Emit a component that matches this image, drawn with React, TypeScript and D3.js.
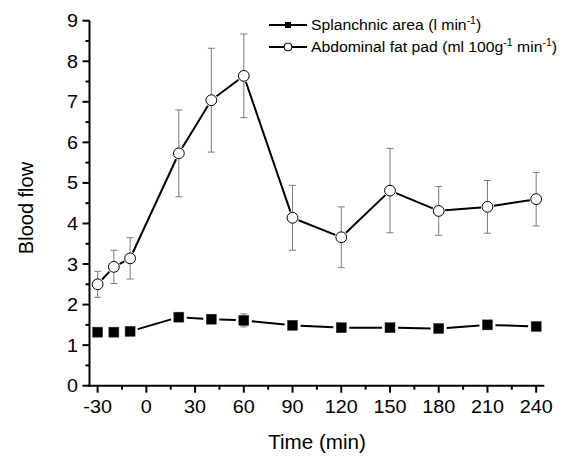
import React from 'react';
import * as d3 from 'd3';

const times = [-30, -20, -10, 20, 40, 60, 90, 120, 150, 180, 210, 240];
const splanchnic = [1.32, 1.32, 1.34, 1.69, 1.64, 1.61, 1.49, 1.43, 1.43, 1.41, 1.5, 1.46];
const splanchnicErr = [0.04, 0.04, 0.04, 0.1, 0.1, 0.16, 0.05, 0.04, 0.04, 0.04, 0.05, 0.05];
const fatPad = [2.5, 2.93, 3.14, 5.73, 7.04, 7.64, 4.14, 3.66, 4.81, 4.31, 4.41, 4.6];
const fatPadErr = [0.32, 0.41, 0.51, 1.07, 1.28, 1.03, 0.8, 0.75, 1.04, 0.6, 0.65, 0.66];
const xTicks = [-30, 0, 30, 60, 90, 120, 150, 180, 210, 240];
const xMinorTicks = [-15, 15, 45, 75, 105, 135, 165, 195, 225];
const yTicks = [0, 1, 2, 3, 4, 5, 6, 7, 8, 9];
const yMinorTicks = [0.5, 1.5, 2.5, 3.5, 4.5, 5.5, 6.5, 7.5, 8.5];

const FONT = 'Liberation Sans, Arial, Helvetica, sans-serif';

const x = d3.scaleLinear().domain([-35, 245]).range([89.5, 544.3]);
const y = d3.scaleLinear().domain([0, 9]).range([385.7, 20.7]);

type Pt = [number, number];

function segments(pts: Pt[], shrink: number): string {
  let d = '';
  for (let i = 0; i < pts.length - 1; i++) {
    const [x1, y1] = pts[i];
    const [x2, y2] = pts[i + 1];
    const dx = x2 - x1;
    const dy = y2 - y1;
    const len = Math.sqrt(dx * dx + dy * dy);
    if (len <= 2 * shrink + 0.5) continue;
    const ux = dx / len;
    const uy = dy / len;
    d += `M${x1 + ux * shrink},${y1 + uy * shrink}L${x2 - ux * shrink},${y2 - uy * shrink}`;
  }
  return d;
}

function ErrorBars({ vals, errs }: { vals: number[]; errs: number[] }) {
  return (
    <g stroke="#7a7a7a" strokeWidth={1} fill="none">
      {times.map((t, i) => {
        const cx = x(t);
        const top = y(vals[i] + errs[i]);
        const bot = y(vals[i] - errs[i]);
        return (
          <g key={i}>
            <line x1={cx} x2={cx} y1={top} y2={bot} />
            <line x1={cx - 3.5} x2={cx + 3.5} y1={top} y2={top} />
            <line x1={cx - 3.5} x2={cx + 3.5} y1={bot} y2={bot} />
          </g>
        );
      })}
    </g>
  );
}

export default function App() {
  const sqPts: Pt[] = times.map((t, i) => [x(t), y(splanchnic[i])]);
  const cPts: Pt[] = times.map((t, i) => [x(t), y(fatPad[i])]);
  const x0 = x.range()[0];
  const y0 = y.range()[0];
  const SX = 1.1;

  return (
    <svg
      width={565}
      height={456}
      style={{ position: 'absolute', left: 0, top: 0, background: '#fff' }}
      fontFamily={FONT}
    >
      <rect x={0} y={0} width={565} height={456} fill="#fff" />

      {/* error bars */}
      <ErrorBars vals={splanchnic} errs={splanchnicErr} />
      <ErrorBars vals={fatPad} errs={fatPadErr} />

      {/* lines */}
      <path d={segments(sqPts, 8)} stroke="#000" strokeWidth={2} fill="none" />
      <path d={segments(cPts, 6.5)} stroke="#000" strokeWidth={2} fill="none" />

      {/* markers */}
      {sqPts.map(([px, py], i) => (
        <rect key={'s' + i} x={px - 5} y={py - 5} width={10} height={10} fill="#000" stroke="#333" strokeWidth={0.5} />
      ))}
      {cPts.map(([px, py], i) => (
        <circle key={'c' + i} cx={px} cy={py} r={5.4} fill="#fff" stroke="#000" strokeWidth={1} />
      ))}

      {/* axes */}
      <g stroke="#000" strokeWidth={2} fill="none">
        <line x1={x0} x2={x0} y1={y(9)} y2={y0 + 1} />
        <line x1={x0 - 1} x2={x.range()[1]} y1={y0} y2={y0} />
        {yTicks.map((v) => (
          <line key={'yt' + v} x1={x0 - 7} x2={x0} y1={y(v)} y2={y(v)} />
        ))}
        {yMinorTicks.map((v) => (
          <line key={'ym' + v} x1={x0 - 4} x2={x0} y1={y(v)} y2={y(v)} />
        ))}
        {xTicks.map((v) => (
          <line key={'xt' + v} x1={x(v)} x2={x(v)} y1={y0} y2={y0 + 7} />
        ))}
        {xMinorTicks.map((v) => (
          <line key={'xm' + v} x1={x(v)} x2={x(v)} y1={y0} y2={y0 + 4} />
        ))}
      </g>

      {/* tick labels */}
      <g fontSize={18} fill="#000">
        {yTicks.map((v) => (
          <text
            key={'yl' + v}
            transform={`translate(78,${y(v)}) scale(${SX},1)`}
            dy="0.36em"
            textAnchor="end"
          >
            {v}
          </text>
        ))}
        {xTicks.map((v) => (
          <text key={'xl' + v} transform={`translate(${x(v)},413) scale(${SX},1)`} textAnchor="middle">
            {v}
          </text>
        ))}
      </g>

      {/* axis titles */}
      <text transform="translate(317,449) scale(1.03,1)" fontSize={20} textAnchor="middle" fill="#000">
        Time (min)
      </text>
      <text transform="translate(33,208) rotate(-90)" fontSize={20} textAnchor="middle" fill="#000">
        Blood flow
      </text>

      {/* legend */}
      <g>
        <line x1={269} x2={307} y1={25} y2={25} stroke="#000" strokeWidth={2} />
        <rect x={285} y={22} width={6} height={6} fill="#000" />
        <text transform="translate(311,30) scale(1.05,1)" fontSize={15} fill="#000">
          Splanchnic area (l min
          <tspan fontSize={10} dy={-6}>-1</tspan>
          <tspan dy={6}>)</tspan>
        </text>
        <line x1={269} x2={307} y1={47} y2={47} stroke="#000" strokeWidth={2} />
        <circle cx={288} cy={47} r={4} fill="#fff" stroke="#000" strokeWidth={1} />
        <text transform="translate(311,52) scale(1.05,1)" fontSize={15} fill="#000">
          Abdominal fat pad (ml 100g
          <tspan fontSize={10} dy={-6}>-1</tspan>
          <tspan dy={6}> min</tspan>
          <tspan fontSize={10} dy={-6}>-1</tspan>
          <tspan dy={6}>)</tspan>
        </text>
      </g>
    </svg>
  );
}
